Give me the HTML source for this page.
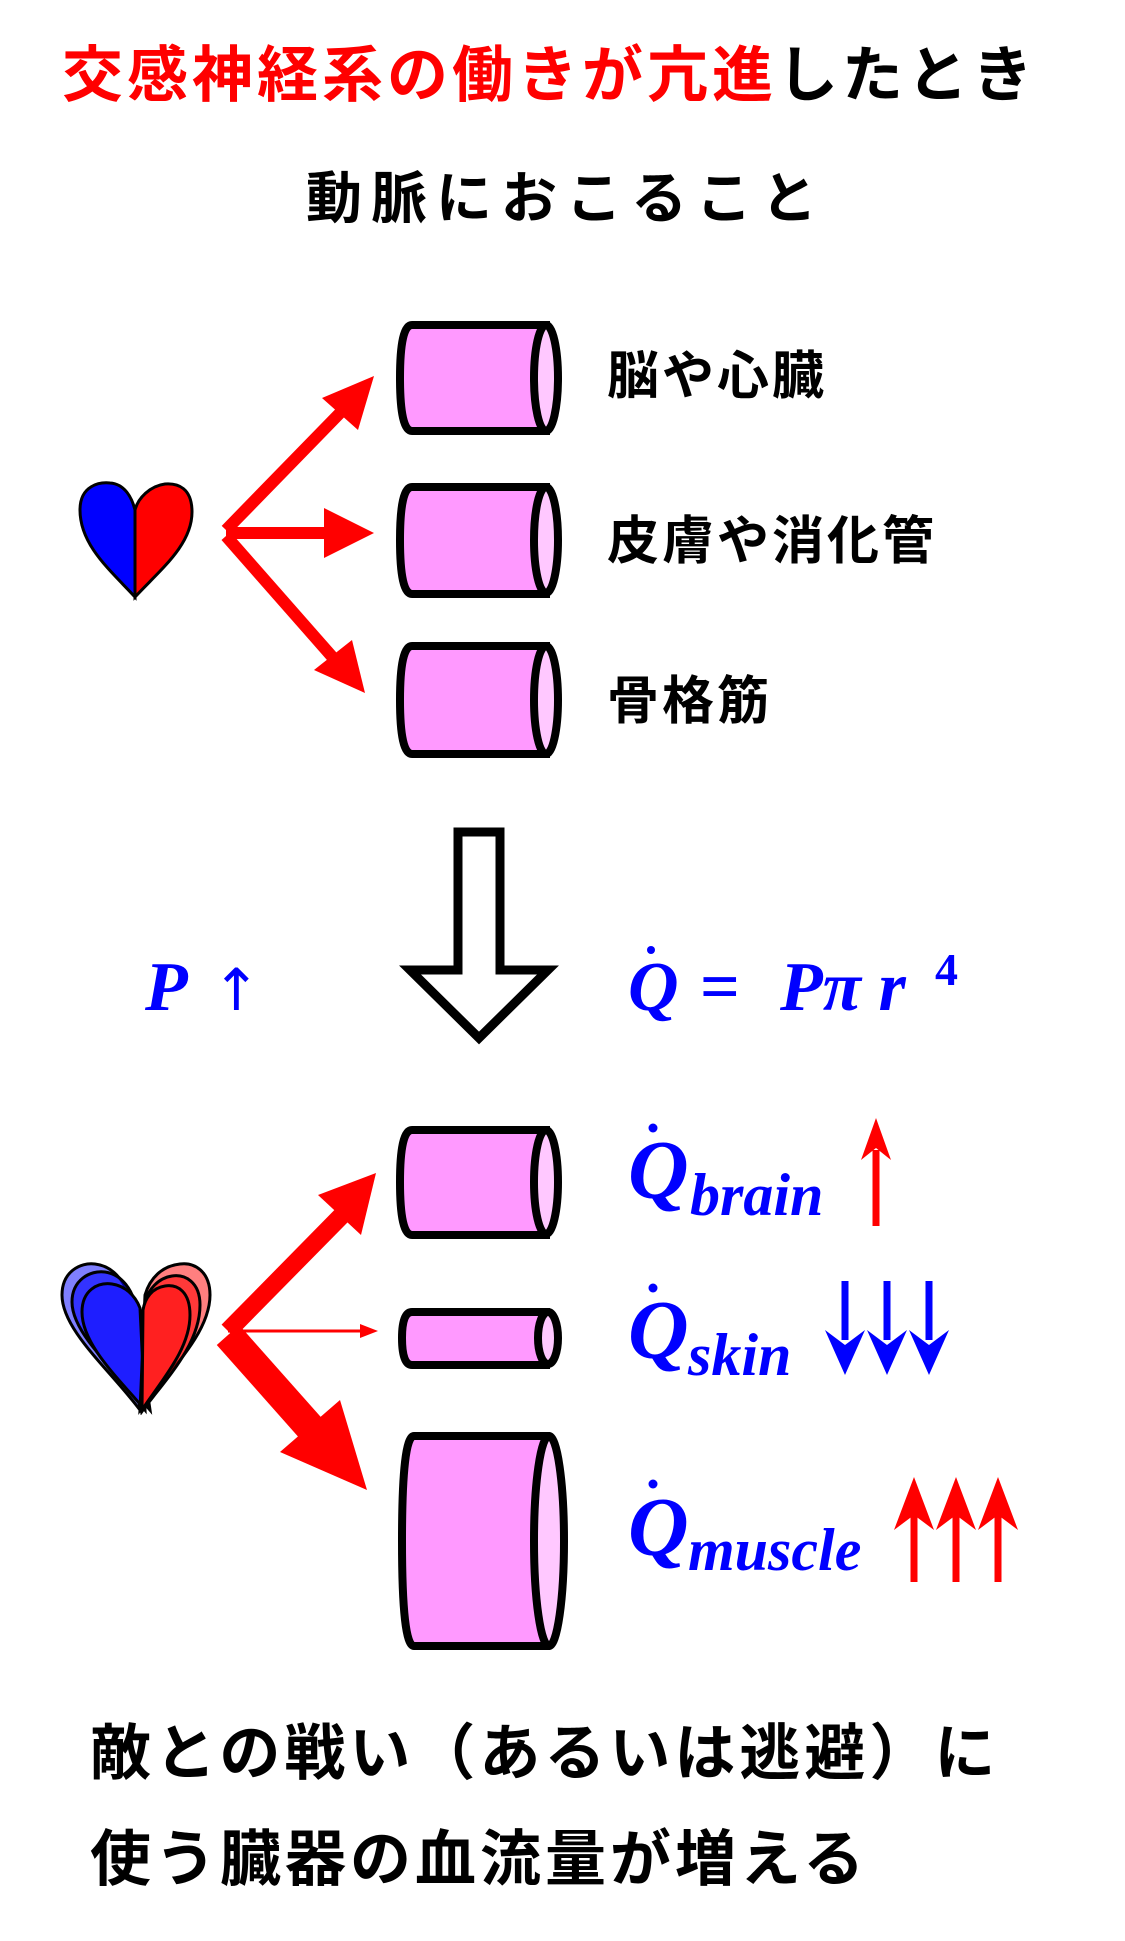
<!DOCTYPE html>
<html><head><meta charset="utf-8"><style>
html,body{margin:0;padding:0;background:#fff;}
svg{display:block;}
.jp{font-family:"Liberation Sans","Noto Sans CJK JP",sans-serif;font-weight:bold;}
.m{font-family:"Liberation Serif","DejaVu Serif",serif;font-style:italic;font-weight:bold;fill:#0000ff;}
</style></head><body>
<svg width="1125" height="1941" viewBox="0 0 1125 1941" xmlns="http://www.w3.org/2000/svg">
<text x="62" y="96" class="jp" font-size="61" fill="#ff0000" letter-spacing="4">交感神経系の働きが亢進<tspan fill="#000">したとき</tspan></text>
<text x="306" y="218" class="jp" font-size="56" fill="#000" letter-spacing="9">動脈におこること</text>

<!-- top heart -->
<path d="M135,597 C110,570 80,545 80,510 C80,485 100,482 110,483 C125,484 132,498 135,510 Z" fill="#0000ff" stroke="#000" stroke-width="3"/>
<path d="M135,597 C160,570 192,545 192,512 C192,488 178,483 165,484 C150,486 138,498 135,510 Z" fill="#ff0000" stroke="#000" stroke-width="3"/>

<!-- top arrows -->
<g stroke="#ff0000" stroke-width="12" fill="#ff0000">
<line x1="226" y1="530" x2="340" y2="413"/>
<line x1="226" y1="533" x2="330" y2="533"/>
<line x1="226" y1="536" x2="335" y2="660"/>
</g>
<polygon points="374,376 358,430 322,398" fill="#ff0000"/>
<polygon points="374,533 324,508 324,558" fill="#ff0000"/>
<polygon points="365,693 314,670 352,640" fill="#ff0000"/>

<!-- top cylinders -->
<g stroke="#000" stroke-width="8">
<path d="M412,325 H546 V431 H412 Q400,431 400,378 Q400,325 412,325 Z" fill="#ff99ff"/>
<ellipse cx="546" cy="378" rx="12" ry="53" fill="#ffc8ff"/>
<path d="M412,487 H546 V594 H412 Q400,594 400,540 Q400,487 412,487 Z" fill="#ff99ff"/>
<ellipse cx="546" cy="540" rx="12" ry="53" fill="#ffc8ff"/>
<path d="M412,646 H546 V754 H412 Q400,754 400,700 Q400,646 412,646 Z" fill="#ff99ff"/>
<ellipse cx="546" cy="700" rx="12" ry="54" fill="#ffc8ff"/>
</g>
<text x="607" y="394" class="jp" font-size="52" letter-spacing="3">脳や心臓</text>
<text x="607" y="559" class="jp" font-size="52" letter-spacing="3">皮膚や消化管</text>
<text x="607" y="719" class="jp" font-size="52" letter-spacing="3">骨格筋</text>

<!-- big hollow arrow -->
<polygon points="458,832 500,832 500,970 548,970 479,1038 410,970 458,970" fill="#fff" stroke="#000" stroke-width="9"/>

<text x="145" y="1010" class="m" font-size="70">P</text>
<text x="212" y="1010" font-family="DejaVu Sans,sans-serif" font-size="58" fill="#0000ff">↑</text>
<text x="628" y="1010" class="m" font-size="70">Q</text>
<circle cx="651" cy="950" r="4" fill="#0000ff"/>
<text x="700" y="1010" font-family="Liberation Serif,serif" font-weight="bold" font-size="70" fill="#0000ff">=</text>
<text x="780" y="1010" class="m" font-size="70">Pπ r</text>
<text x="935" y="985" font-family="Liberation Serif,serif" font-weight="bold" font-size="46" fill="#0000ff">4</text>

<g transform="translate(0,-10)">
<g stroke="#000" stroke-width="3">
<path d="M140,1420 C110,1380 62,1340 62,1305 C62,1282 80,1272 95,1274 C112,1276 124,1290 128,1305 Z" fill="#0000ff" fill-opacity="0.5"/>
<path d="M150,1420 C120,1385 72,1345 72,1312 C72,1290 90,1280 105,1282 C120,1284 130,1297 134,1310 Z" fill="#0000ff" fill-opacity="0.6"/>
<path d="M145,1420 C120,1390 82,1355 82,1322 C82,1300 98,1292 112,1294 C125,1296 135,1305 140,1318 Z" fill="#1e1eff"/>
<path d="M140,1420 C165,1385 210,1345 210,1305 C210,1282 195,1272 180,1274 C162,1276 150,1288 145,1305 Z" fill="#ff0000" fill-opacity="0.5"/>
<path d="M143,1420 C165,1390 200,1355 200,1315 C200,1292 185,1284 172,1286 C158,1288 148,1300 145,1312 Z" fill="#ff0000" fill-opacity="0.55"/>
<path d="M142,1420 C160,1392 190,1360 190,1325 C190,1302 178,1294 165,1296 C152,1298 145,1308 143,1320 Z" fill="#ff2020"/>
</g>

<line x1="228" y1="1341" x2="352" y2="1215" stroke="#ff0000" stroke-width="18"/>
<polygon points="376,1183 361,1245 318,1205" fill="#ff0000"/>
<line x1="228" y1="1341" x2="360" y2="1341" stroke="#ff0000" stroke-width="3"/>
<polygon points="378,1341 360,1334 360,1348" fill="#ff0000"/>
<line x1="228" y1="1345" x2="330" y2="1460" stroke="#ff0000" stroke-width="30"/>
<polygon points="367,1500 280,1462 340,1410" fill="#ff0000"/>

<g stroke="#000" stroke-width="8">
<path d="M412,1140 H546 V1245 H412 Q400,1245 400,1192 Q400,1140 412,1140 Z" fill="#ff99ff"/>
<ellipse cx="546" cy="1192" rx="12" ry="52" fill="#ffc8ff"/>
<path d="M412,1322 H546 V1375 H412 Q402,1375 402,1348 Q402,1322 412,1322 Z" fill="#ff99ff"/>
<ellipse cx="548" cy="1348" rx="10" ry="26" fill="#ffc8ff"/>
<path d="M414,1446 H546 V1656 H414 Q402,1656 402,1551 Q402,1446 414,1446 Z" fill="#ff99ff"/>
<ellipse cx="549" cy="1551" rx="15" ry="105" fill="#ffc8ff"/>
</g>

<text x="628" y="1208" class="m" font-size="84">Q</text>
<circle cx="653" cy="1138" r="4.5" fill="#0000ff"/>
<text x="690" y="1225" class="m" font-size="60">brain</text>
<line x1="876" y1="1236" x2="876" y2="1160" stroke="#ff0000" stroke-width="7"/>
<polygon points="876,1128 861,1170 876,1158 891,1170" fill="#ff0000"/>

<text x="628" y="1368" class="m" font-size="84">Q</text>
<circle cx="653" cy="1298" r="4.5" fill="#0000ff"/>
<text x="688" y="1385" class="m" font-size="60">skin</text>
<g stroke="#0000ff" stroke-width="7">
<line x1="845" y1="1291" x2="845" y2="1350"/>
<line x1="887" y1="1291" x2="887" y2="1350"/>
<line x1="929" y1="1291" x2="929" y2="1350"/>
</g>
<polygon points="845,1385 825,1340 845,1355 865,1340" fill="#0000ff"/>
<polygon points="887,1385 867,1340 887,1355 907,1340" fill="#0000ff"/>
<polygon points="929,1385 909,1340 929,1355 949,1340" fill="#0000ff"/>

<text x="628" y="1565" class="m" font-size="84">Q</text>
<circle cx="653" cy="1494" r="4.5" fill="#0000ff"/>
<text x="688" y="1580" class="m" font-size="60">muscle</text>
<g stroke="#ff0000" stroke-width="7">
<line x1="914" y1="1592" x2="914" y2="1525"/>
<line x1="956" y1="1592" x2="956" y2="1525"/>
<line x1="998" y1="1592" x2="998" y2="1525"/>
</g>
<polygon points="914,1487 894,1540 914,1525 934,1540" fill="#ff0000"/>
<polygon points="956,1487 936,1540 956,1525 976,1540" fill="#ff0000"/>
<polygon points="998,1487 978,1540 998,1525 1018,1540" fill="#ff0000"/>
</g>

<text x="90" y="1774" class="jp" font-size="61" fill="#000" letter-spacing="4">敵との戦い（あるいは逃避）に</text>
<text x="90" y="1880" class="jp" font-size="61" fill="#000" letter-spacing="4">使う臓器の血流量が増える</text>
</svg>
</body></html>
